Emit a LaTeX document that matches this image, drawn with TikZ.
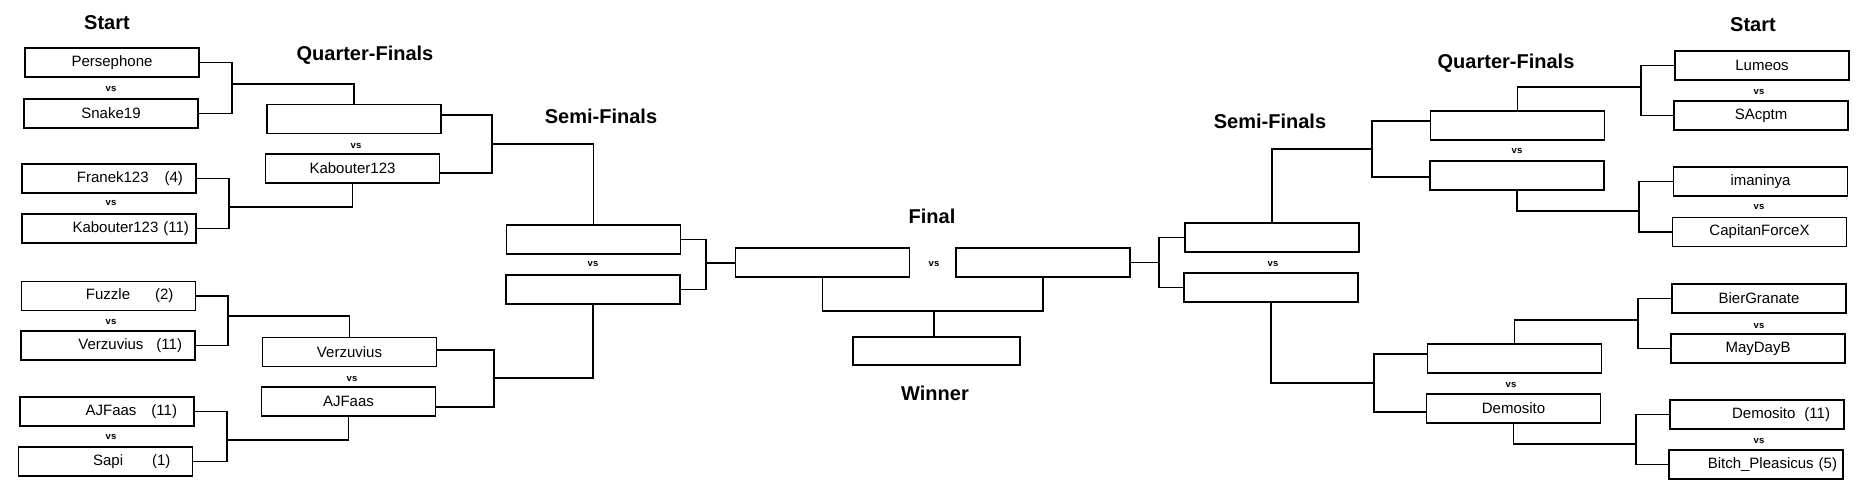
\documentclass[tikz,border=0pt]{standalone}
\usepackage{fontspec}
\setmainfont{Liberation Sans}
\usetikzlibrary{calc}
\begin{document}
\begin{tikzpicture}[x=1pt,y=-1pt,
  pbox/.style={draw, line width=1.2pt, minimum width=174pt, minimum height=29pt, inner sep=0pt, font=\fontsize{15}{17}\selectfont},
  rbox/.style={pbox, align=right, text width=#1},
  vslabel/.style={font=\bfseries\fontsize{9.5}{10}\selectfont, inner sep=0pt},
  stage/.style={font=\bfseries\fontsize{20}{22}\selectfont, inner sep=0pt, anchor=base},
  link/.style={line width=1.2pt}]
\useasboundingbox (0,0) rectangle (1873,487);

% ---------- headers ----------
\node[stage] (hstartL) at (107,30) {Start};
\node[stage] (hqfL) at (365,61) {Quarter-Finals};
\node[stage] (hsfL) at (601,123) {Semi-Finals};
\node[stage] (hfinal) at (932,223) {Final};
\node[stage] (hwinner) at (935,400) {Winner};
\node[stage] (hsfR) at (1270,128) {Semi-Finals};
\node[stage] (hqfR) at (1506,68) {Quarter-Finals};
\node[stage] (hstartR) at (1753,32) {Start};

% ---------- left start ----------
\node[pbox] (p1) at (112,62.5) {Persephone};
\node[pbox] (p2) at (111,113.5) {Snake19};
\node[rbox=148pt] (p3) at (109,178.5) {Franek123\hspace{16pt}(4)};
\node[rbox=160pt] (p4) at (109,228.5) {Kabouter123 (11)};
\node[rbox=130pt] (p5) at (108.5,296) {Fuzzle\hspace{25pt}(2)};
\node[rbox=148pt] (p6) at (108,345.5) {Verzuvius\hspace{13pt}(11)};
\node[rbox=140pt] (p7) at (107,411.5) {AJFaas\hspace{15pt}(11)};
\node[rbox=130pt] (p8) at (105.5,461.5) {Sapi\hspace{29pt}(1)};
\node[vslabel] (vs1) at (111,89) {vs};
\node[vslabel] (vs2) at (111,203) {vs};
\node[vslabel] (vs3) at (111,322) {vs};
\node[vslabel] (vs4) at (111,437) {vs};

% ---------- left quarter-finals ----------
\node[pbox] (q1) at (354,119) {};
\node[pbox] (q2) at (352.5,168.5) {Kabouter123};
\node[pbox] (q3) at (349.5,352) {Verzuvius};
\node[pbox] (q4) at (348.5,401.5) {AJFaas};
\node[vslabel] (vs5) at (356,146) {vs};
\node[vslabel] (vs6) at (352,379) {vs};

% ---------- left semi-finals ----------
\node[pbox] (s1) at (593.5,239.5) {};
\node[pbox] (s2) at (593,289.5) {};
\node[vslabel] (vs7) at (593,264) {vs};

% ---------- final ----------
\node[pbox] (f1) at (822.5,262.5) {};
\node[pbox] (f2) at (1043,262.5) {};
\node[vslabel] (vs8) at (934,264) {vs};
\node[pbox, minimum width=167pt, minimum height=28pt] (w) at (936.5,351) {};

% ---------- right semi-finals ----------
\node[pbox] (s3) at (1272,237.5) {};
\node[pbox] (s4) at (1271,287.5) {};
\node[vslabel] (vs9) at (1273,264) {vs};

% ---------- right quarter-finals ----------
\node[pbox] (q5) at (1517.5,125.5) {};
\node[pbox] (q6) at (1517,175.5) {};
\node[pbox] (q7) at (1514.5,358.5) {};
\node[pbox] (q8) at (1513.5,408.5) {Demosito};
\node[vslabel] (vs10) at (1517,151) {vs};
\node[vslabel] (vs11) at (1511,385) {vs};

% ---------- right start ----------
\node[pbox] (r1) at (1762,65.5) {Lumeos};
\node[pbox] (r2) at (1761,115.5) {SAcptm};
\node[pbox] (r3) at (1760.5,181.5) {imaninya};
\node[pbox] (r4) at (1759.5,232) {CapitanForceX};
\node[pbox] (r5) at (1759,298.5) {BierGranate};
\node[pbox] (r6) at (1758,348.5) {MayDayB};
\node[rbox=146pt] (r7) at (1757,414.5) {Demosito\hspace{9pt}(11)};
\node[rbox=162pt] (r8) at (1756,464.5) {Bitch\_Pleasicus (5)};
\node[vslabel] (vs12) at (1759,92) {vs};
\node[vslabel] (vs13) at (1759,207) {vs};
\node[vslabel] (vs14) at (1759,326) {vs};
\node[vslabel] (vs15) at (1759,441) {vs};

% ---------- junctions ----------
\coordinate (jL1) at (232,84);
\coordinate (jL2) at (229,207);
\coordinate (jL3) at (228,316);
\coordinate (jL4) at (227,440);
\coordinate (jL5) at (492,144);
\coordinate (jL6) at (494,378);
\coordinate (jL7) at (706,263);
\coordinate (jW) at (934,311);
\coordinate (jR7) at (1159,264);
\coordinate (jR5) at (1372,149);
\coordinate (jR6) at (1374,383);
\coordinate (jR1) at (1641,87);
\coordinate (jR2) at (1639,211);
\coordinate (jR3) at (1638,320);
\coordinate (jR4) at (1636,444);

% ---------- connectors left ----------
\draw[link] (p1.east) -| (jL1) |- (p2.east);
\draw[link] (jL1) -| (q1.north);
\draw[link] (p3.east) -| (jL2) |- (p4.east);
\draw[link] (jL2) -| (q2.south);
\draw[link] (p5.east) -| (jL3) |- (p6.east);
\draw[link] (jL3) -| (q3.north);
\draw[link] (p7.east) -| (jL4) |- (p8.east);
\draw[link] (jL4) -| (q4.south);
\draw[link] ([yshift=4pt]q1.east) -| (jL5) |- ([yshift=-4.5pt]q2.east);
\draw[link] (jL5) -| (s1.north);
\draw[link] ([yshift=2pt]q3.east) -| (jL6) |- ([yshift=-5.5pt]q4.east);
\draw[link] (jL6) -| (s2.south);
\draw[link] (s1.east) -| (jL7) |- (s2.east);
\draw[link] (jL7) -- (jL7 -| f1.west);

% ---------- final ----------
\draw[link] (f1.south) |- (jW) -| (f2.south);
\draw[link] (jW) -- (jW |- w.north);

% ---------- connectors right ----------
\draw[link] (f2.east) -- (f2.east -| jR7);
\draw[link] (s3.west) -| (jR7) |- (s4.west);
\draw[link] (s3.north) |- (jR5);
\draw[link] ([yshift=4.5pt]q5.west) -| (jR5) |- ([yshift=-1.5pt]q6.west);
\draw[link] (s4.south) |- (jR6);
\draw[link] ([yshift=4.5pt]q7.west) -| (jR6) |- ([yshift=-3.5pt]q8.west);
\draw[link] (q5.north) |- (jR1);
\draw[link] (r1.west) -| (jR1) |- (r2.west);
\draw[link] (q6.south) |- (jR2);
\draw[link] (r3.west) -| (jR2) |- (r4.west);
\draw[link] (q7.north) |- (jR3);
\draw[link] (r5.west) -| (jR3) |- (r6.west);
\draw[link] (q8.south) |- (jR4);
\draw[link] (r7.west) -| (jR4) |- (r8.west);
\end{tikzpicture}
\end{document}
